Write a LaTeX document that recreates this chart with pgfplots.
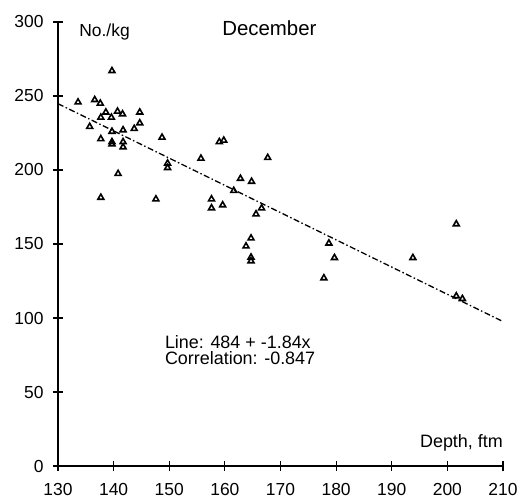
\documentclass[border=0pt]{standalone}
\usepackage{pgfplots}
\pgfplotsset{compat=1.18}
\usepackage{fontspec}
\setmainfont{Liberation Sans}
\begin{document}
\begin{tikzpicture}
\begin{axis}[
  scale only axis,
  width=445bp, height=444bp,
  xmin=130, xmax=210, ymin=0, ymax=300,
  axis x line=bottom, axis y line=left,
  axis line style={-, line width=2bp},
  xtick={130,140,...,210},
  ytick={0,50,...,300},
  tick align=center,
  major tick length=10bp,
  tick style={line width=1.2bp, black},
  /pgf/number format/assume math mode=true,
  /pgf/number format/1000 sep={},
  tick label style={font=\fontsize{17.5}{20}\selectfont},
  xticklabel style={yshift=-9bp},
  yticklabel style={xshift=-6bp},
  clip=false,
]
\addplot[black, line width=1.3bp, dash pattern=on 6bp off 2.5bp on 1.5bp off 2.5bp] coordinates {(130,244.8) (210,97.6)};
\addplot[only marks, mark=triangle, mark size=3.4bp, mark options={line width=1.6bp, black}] coordinates {
(133.6,245.8) (136.6,247.4) (137.6,245) (138.6,239) (137.7,235.5)
(139.6,235.5) (140.7,239.6) (141.6,237.8) (144.7,239) (144.7,231.7)
(135.7,229.3) (139.7,226) (141.7,227) (143.7,227.9) (137.7,221)
(139.7,219) (139.7,217.5) (141.7,219) (141.7,215.5) (148.7,222)
(149.7,204.5) (149.7,201.5) (155.7,207.8) (159,219) (159.8,220)
(140.8,197.5) (137.7,181.4) (147.6,180.3) (157.6,180.3) (157.6,174.3)
(159.6,176.3) (161.6,186) (162.8,194.2) (164.8,192.2) (167.7,208.3)
(166.6,174.2) (165.6,170.2) (164.7,153.9) (163.8,148.5) (164.7,141)
(164.7,138.5) (178.7,150.5) (179.7,140.7) (177.8,127) (193.8,140.7)
(201.6,163.5) (201.6,114.8) (202.7,113) (139.7,267)
};
\node[font=\fontsize{20.5}{24}\selectfont] at (axis cs:168,296) {December};
\node[anchor=west, font=\fontsize{17.5}{20}\selectfont] at (axis cs:133.2,293) {No./kg};
\node[anchor=east, font=\fontsize{18}{20}\selectfont, inner sep=0pt] at (axis cs:210,15.5) {Depth, ftm};
\node[anchor=west, font=\fontsize{18}{20}\selectfont, inner sep=0pt] at (axis cs:149.2,84) {Line: 484 + -1.84x};
\node[anchor=west, font=\fontsize{18}{20}\selectfont, inner sep=0pt] at (axis cs:149.2,73) {Correlation: -0.847};
\coordinate (O) at (rel axis cs:0,0);
\coordinate (T) at (rel axis cs:1,1);
\end{axis}
\path ([shift={(-58bp,-36bp)}]O) rectangle ([shift={(21bp,22bp)}]T);
\end{tikzpicture}
\end{document}
